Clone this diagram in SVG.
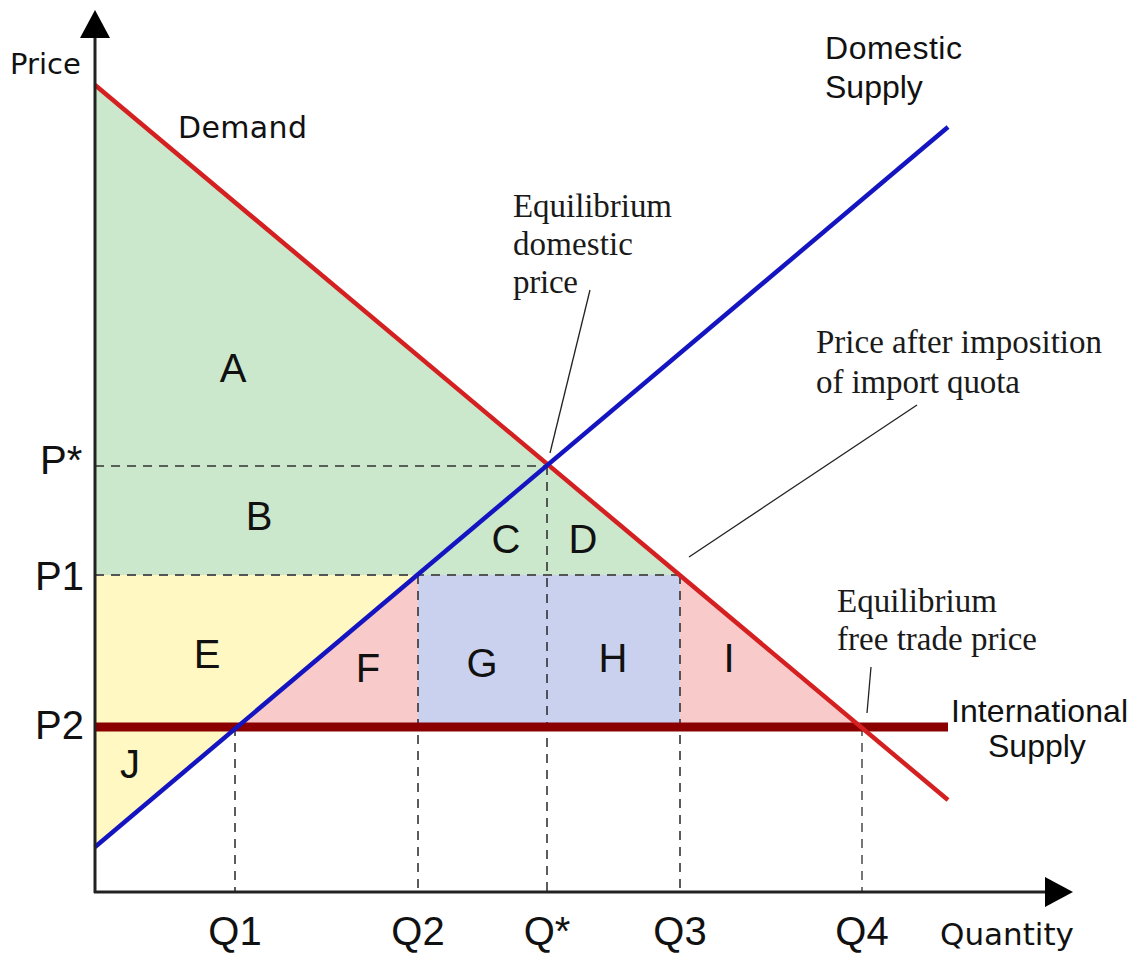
<svg xmlns="http://www.w3.org/2000/svg" width="1145" height="957" viewBox="0 0 1145 957">
<style>
.sans{font-family:"Liberation Sans",Arial,sans-serif;fill:#111}
.dv{font-family:"DejaVu Sans",Verdana,sans-serif;fill:#111}
.serif{font-family:"Liberation Serif","Times New Roman",serif;fill:#1a1a1a}
.big{font-size:40px}
.dash{stroke:#333;stroke-width:1.6;stroke-dasharray:9 7;fill:none}
.lead{stroke:#222;stroke-width:1.3;fill:none}
</style>
<rect width="1145" height="957" fill="#fff"/>
<g id="areas">
<polygon id="green" points="95,85 680,575 95,575" fill="#cbe8cc"/>
<polygon id="yellow" points="95,575 418,575 95,847" fill="#fff8c2"/>
<polygon id="pinkF" points="235,727 418,573 418,727" fill="#f8cbca"/>
<polygon id="pinkI" points="680,575 862,727 680,727" fill="#f8cbca"/>
<rect id="blueGH" x="418" y="575" width="262" height="152" fill="#c9d1ee"/>
</g>
<g id="connectors">
<line class="dash" x1="95" y1="466" x2="547" y2="466"/>
<line class="dash" x1="95" y1="575" x2="680" y2="575" style="stroke:#555;stroke-width:2"/>
<line class="dash" x1="235" y1="727" x2="235" y2="892"/>
<line class="dash" x1="418" y1="575" x2="418" y2="892"/>
<line class="dash" x1="547" y1="466" x2="547" y2="892"/>
<line class="dash" x1="680" y1="575" x2="680" y2="892"/>
<line class="dash" x1="862" y1="727" x2="862" y2="892" style="stroke:#555"/>
<line id="intl-supply" x1="95" y1="727" x2="948" y2="727" stroke="#8a0000" stroke-width="9"/>
<line id="demand" x1="95" y1="85" x2="948" y2="800" stroke="#d42020" stroke-width="4.5"/>
<line id="dom-supply" x1="95" y1="847" x2="948" y2="127" stroke="#1414c0" stroke-width="4.5"/>
<line class="lead" x1="590" y1="290" x2="550" y2="453"/>
<line class="lead" x1="917" y1="405" x2="689" y2="557"/>
<line class="lead" x1="871" y1="667" x2="867" y2="713"/>
</g>
<g id="axes">
<line x1="95" y1="30" x2="95" y2="893" stroke="#222" stroke-width="3"/>
<line x1="94" y1="892" x2="1050" y2="892" stroke="#222" stroke-width="3"/>
<polygon points="95,10 80,38 110,38" fill="#000"/>
<polygon points="1073,892 1045,877 1045,907" fill="#000"/>
<text class="dv" x="10" y="74" font-size="29">Price</text>
<text class="dv" x="940" y="945" font-size="31">Quantity</text>
</g>
<g id="price-labels" class="sans big">
<text x="40" y="474">P*</text>
<text x="35" y="590">P1</text>
<text x="35" y="739">P2</text>
</g>
<g id="qty-labels" class="sans big" text-anchor="middle">
<text x="235" y="945">Q1</text>
<text x="418" y="945">Q2</text>
<text x="547" y="945">Q*</text>
<text x="680" y="945">Q3</text>
<text x="862" y="945">Q4</text>
</g>
<g id="area-labels" class="sans big" text-anchor="middle">
<text x="233" y="382">A</text>
<text x="259" y="530">B</text>
<text x="506" y="553">C</text>
<text x="583" y="553">D</text>
<text x="207" y="668">E</text>
<text x="368" y="682">F</text>
<text x="482" y="677">G</text>
<text x="613" y="672">H</text>
<text x="729" y="672">I</text>
<text x="130" y="778">J</text>
</g>
<g id="curve-labels">
<text class="dv" x="178" y="138" font-size="30" textLength="129">Demand</text>
<text class="sans" x="825" y="59" font-size="32" textLength="137">Domestic</text>
<text class="sans" x="825" y="98" font-size="32">Supply</text>
<text class="sans" x="951" y="722" font-size="32" textLength="177">International</text>
<text class="sans" x="988" y="757" font-size="32">Supply</text>
</g>
<g id="annotations" class="serif" font-size="33">
<text x="513" y="217" textLength="159">Equilibrium</text>
<text x="513" y="255" textLength="120">domestic</text>
<text x="513" y="293" textLength="65">price</text>
<text x="816" y="353" textLength="286">Price after imposition</text>
<text x="816" y="393" textLength="204">of import quota</text>
<text x="837" y="612" textLength="160">Equilibrium</text>
<text x="837" y="650" textLength="200">free trade price</text>
</g>
</svg>
